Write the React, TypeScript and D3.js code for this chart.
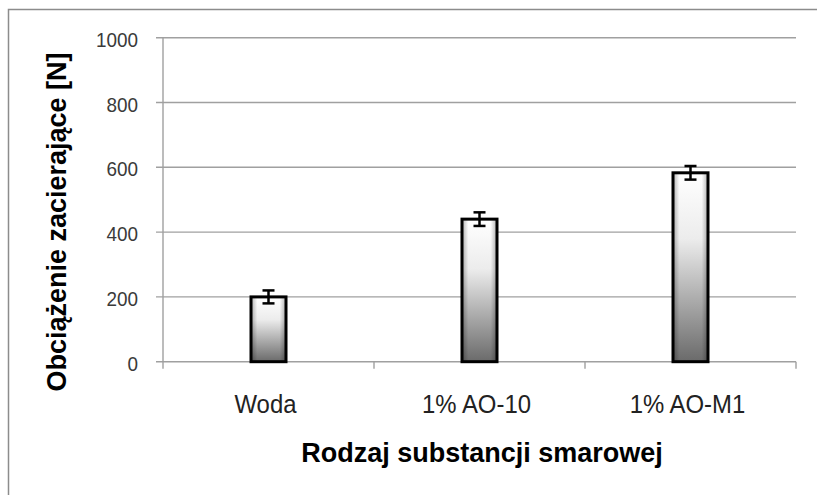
import React from "react";
import * as d3 from "d3";

const categories = ["Woda", "1% AO-10", "1% AO-M1"];
const values = [200, 440, 583];
const errors = [20, 21, 21];
const yTicks = [0, 200, 400, 600, 800, 1000];
const yTitle = "Obciążenie zacierające [N]";
const xTitle = "Rodzaj substancji smarowej";

const W = 817;
const H = 495;
const FONT = "'Liberation Sans', Arial, sans-serif";

export default function App() {
  const x = d3.scaleBand<string>().domain(categories).range([163, 796]).padding(0);
  const y = d3.scaleLinear().domain([0, 1000]).range([361.7, 37.7]);
  const bw = 35;
  const boundaries = [...categories.map((c) => x(c)!), 796];

  return (
    <svg
      width={W}
      height={H}
      style={{ position: "absolute", left: 0, top: 0, background: "#fff" }}
    >
      <defs>
        <linearGradient id="barV" x1="0" y1="0" x2="0" y2="1">
          <stop offset="0%" stopColor="#ffffff" />
          <stop offset="35%" stopColor="#ececec" />
          <stop offset="100%" stopColor="#6a6a6a" />
        </linearGradient>
        <linearGradient id="barH" x1="0" y1="0" x2="1" y2="0">
          <stop offset="0%" stopColor="#000" stopOpacity={0.3} />
          <stop offset="18%" stopColor="#000" stopOpacity={0} />
          <stop offset="82%" stopColor="#000" stopOpacity={0} />
          <stop offset="100%" stopColor="#000" stopOpacity={0.3} />
        </linearGradient>
      </defs>
      <rect x={8.5} y={9.5} width={840} height={520} fill="#fff" stroke="#8c8c8c" strokeWidth={1.5} />

      {/* gridlines */}
      {yTicks.map((t) => (
        <line key={"g" + t} x1={156} x2={796} y1={y(t)} y2={y(t)} stroke="#a0a0a0" strokeWidth={1.4} />
      ))}
      {/* y axis */}
      <line x1={163} x2={163} y1={y(1000)} y2={y(0)} stroke="#a0a0a0" strokeWidth={1.4} />
      {/* x axis ticks */}
      {boundaries.map((b, i) => (
        <line key={"xt" + i} x1={b} x2={b} y1={y(0)} y2={y(0) + 7} stroke="#a0a0a0" strokeWidth={1.4} />
      ))}

      {/* y tick labels */}
      {yTicks.map((t) => (
        <g key={"yl" + t} transform={`translate(138,${y(t) + 9}) scale(0.9,1)`}>
          <text x={0} y={0} textAnchor="end" fontFamily={FONT} fontSize={21} fill="#3a3a3a">
            {t}
          </text>
        </g>
      ))}

      {/* bars */}
      {categories.map((c, i) => {
        const cx = x(c)! + x.bandwidth() / 2;
        const top = y(values[i]);
        const h = y(0) - top;
        return (
          <g key={c}>
            <rect x={cx - bw / 2} y={top} width={bw} height={h} fill="url(#barV)" />
            <rect x={cx - bw / 2} y={top} width={bw} height={h} fill="url(#barH)" stroke="#000" strokeWidth={3} />
            <line x1={cx} x2={cx} y1={y(values[i] + errors[i])} y2={y(values[i] - errors[i])} stroke="#000" strokeWidth={2.5} />
            <line x1={cx - 6} x2={cx + 6} y1={y(values[i] + errors[i])} y2={y(values[i] + errors[i])} stroke="#000" strokeWidth={2.5} />
            <line x1={cx - 6} x2={cx + 6} y1={y(values[i] - errors[i])} y2={y(values[i] - errors[i])} stroke="#000" strokeWidth={2.5} />
          </g>
        );
      })}

      {/* category labels */}
      {categories.map((c) => (
        <g key={"cl" + c} transform={`translate(${x(c)! + x.bandwidth() / 2 - 3},413) scale(0.92,1)`}>
          <text x={0} y={0} textAnchor="middle" fontFamily={FONT} fontSize={26} fill="#222">
            {c}
          </text>
        </g>
      ))}

      {/* axis titles */}
      <text x={482} y={462} textAnchor="middle" fontFamily={FONT} fontSize={27} fontWeight="bold" fill="#000">
        {xTitle}
      </text>
      <text
        transform={`translate(66,222) rotate(-90)`}
        textAnchor="middle"
        fontFamily={FONT}
        fontSize={27}
        fontWeight="bold"
        fill="#000"
      >
        {yTitle}
      </text>
    </svg>
  );
}
